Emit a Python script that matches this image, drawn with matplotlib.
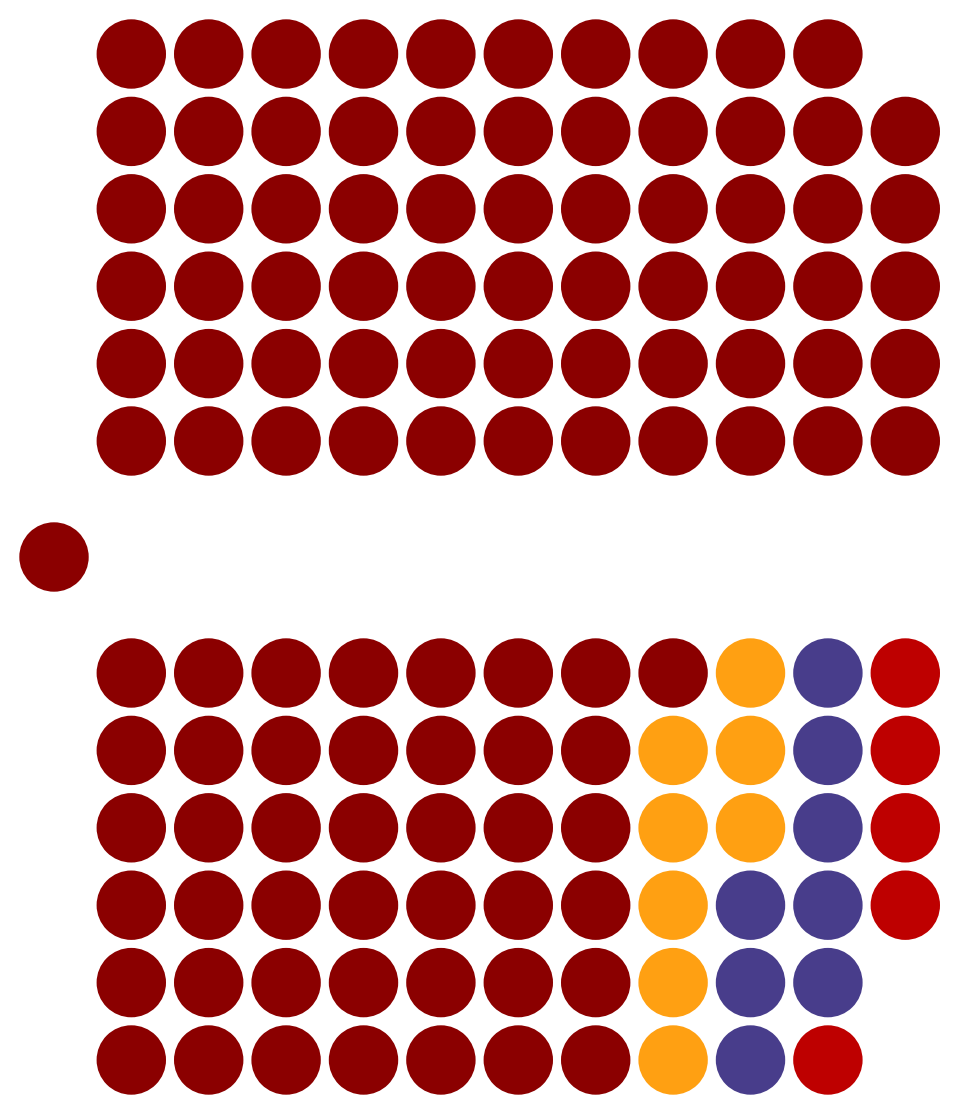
import matplotlib
matplotlib.use("Agg")
import matplotlib.pyplot as plt
from matplotlib.patches import Circle

# ── Data ─────────────────────────────────────────────────────
# upper bench (one party)
upper_parties = ["Majority"]
upper_seats = [65]
upper_colors = ["#8b0000"]

# speaker
speaker_seats = 1
speaker_color = "#8b0000"

# lower bench
lower_parties = ["Majority", "Party B", "Party C", "Party D"]
lower_seats = [43, 8, 8, 5]
lower_colors = ["#8b0000", "#ffa012", "#483d8b", "#be0000"]

# ── Layout ───────────────────────────────────────────────────
ROWS = 6
X0, DX = 131.3, 77.4      # first column centre, spacing
R = 34.7
UPPER_AISLE_Y = 441       # row nearest the aisle, upper bench
LOWER_AISLE_Y = 673       # row nearest the aisle, lower bench
SPEAKER_XY = (54, 557)

fig = plt.figure(figsize=(9.6, 11.15), dpi=100)
ax = fig.add_axes([0, 0, 1, 1])
ax.set_xlim(0, 960)
ax.set_ylim(1115, 0)
ax.set_aspect("equal")
ax.axis("off")


def draw_bench(seats, colors, aisle_y, direction):
    # fill column by column, starting from the aisle side
    flat = []
    for n, c in zip(seats, colors):
        flat += [c] * n
    for i, c in enumerate(flat):
        col, row = divmod(i, ROWS)
        x = X0 + col * DX
        y = aisle_y + direction * row * DX
        ax.add_patch(Circle((x, y), R, color=c, lw=0))


draw_bench(upper_seats, upper_colors, UPPER_AISLE_Y, -1)
draw_bench(lower_seats, lower_colors, LOWER_AISLE_Y, 1)
for _ in range(speaker_seats):
    ax.add_patch(Circle(SPEAKER_XY, R, color=speaker_color, lw=0))

fig.savefig("out.png", dpi=100, facecolor="white")
plt.close(fig)
